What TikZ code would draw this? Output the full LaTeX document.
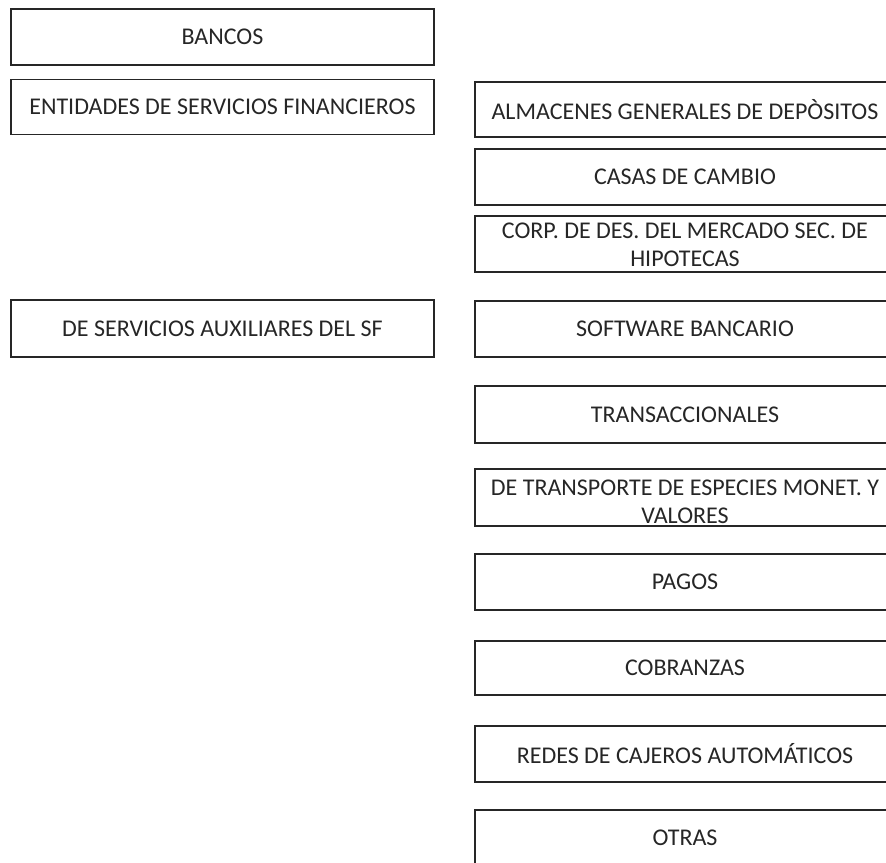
\documentclass[tikz,border=0pt]{standalone}
\usepackage{fontspec}
\setmainfont{Carlito}
\begin{document}
\begin{tikzpicture}[x=1pt,y=-1pt,
  txt/.style={font=\fontsize{24}{27.5}\selectfont, text=black!85, align=center, inner sep=0pt},
  box/.style={txt, draw=black!85, line width=1.5pt, outer sep=0pt, minimum height=56pt},
  lbox/.style={box, minimum width=423pt},
  rbox/.style={box, minimum width=420pt}]
\useasboundingbox (0,0) rectangle (886,862);
\node[lbox] (bancos) at (222.5,37) {BANCOS};
\node[lbox, minimum height=55pt] (entidades) at (222.5,107) {ENTIDADES DE SERVICIOS FINANCIEROS};
\node[lbox, minimum height=57pt] (aux) at (222.5,328.5) {DE SERVICIOS AUXILIARES DEL SF};
\node[rbox, minimum height=55pt] (almacenes) at (685,109.5) {ALMACENES GENERALES DE DEPÒSITOS};
\node[rbox] (casas) at (685,177) {CASAS DE CAMBIO};
\node[rbox] (corp) at (685,244) {};
\node[txt] (corptxt) at (685,245) {CORP. DE DES. DEL MERCADO SEC. DE\\HIPOTECAS};
\node[rbox] (software) at (685,329) {SOFTWARE BANCARIO};
\node[rbox, minimum height=57pt] (trans) at (685,414.5) {TRANSACCIONALES};
\node[rbox, minimum height=57pt] (transporte) at (685,497.5) {};
\node[txt] (transportetxt) at (685,502) {DE TRANSPORTE DE ESPECIES MONET. Y\\VALORES};
\node[rbox] (pagos) at (685,582) {PAGOS};
\node[rbox, minimum height=54pt] (cobranzas) at (685,668) {COBRANZAS};
\node[rbox] (redes) at (685,754) {REDES DE CAJEROS AUTOMÁTICOS};
\node[rbox] (otras) at (685,838) {OTRAS};
\end{tikzpicture}
\end{document}
